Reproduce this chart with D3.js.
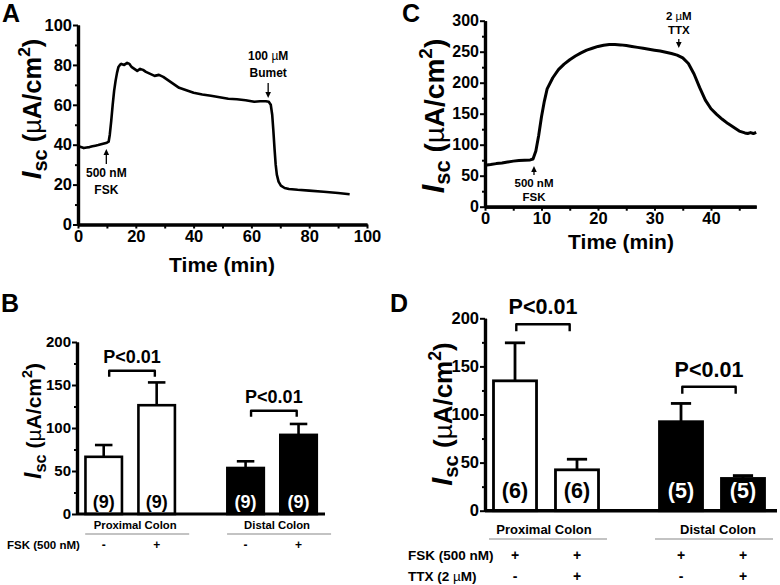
<!DOCTYPE html>
<html><head><meta charset="utf-8">
<script src="https://cdn.jsdelivr.net/npm/d3@7"></script>
<style>
body{margin:0;background:#fff}
svg text{font-family:"Liberation Sans",Arial,Helvetica,sans-serif;font-weight:bold;fill:#000}
</style>
</head><body>
<svg id="fig" width="780" height="585"></svg>
<script>
// ---------- DATA ----------
// Panel A trace: time (min), Isc (µA/cm2)
const traceATime = [0,1,2,3,4,5,6,7,8,9,10,10.6,11,11.5,12,12.5,13,13.5,14,14.5,15,16,17,17.8,18.5,19.5,20.5,21.5,22.5,23.5,25,26.5,28,29.5,31,33,35,37,40,43,46,49,52,55,58,61,63,65,66,66.7,67.2,67.6,68,68.4,68.8,69.4,70.2,71.5,73,76,80,85,90,94];
const traceAIsc  = [39.5,38.8,38.3,38.6,38.8,39.2,39.5,39.8,40.2,40.6,41,41.5,45,52,60,67,72,76,79,80,80.5,80,81,80.5,79,78,77,78,77.5,76.5,75.5,74.5,75,74,72.5,70.5,68.5,67.5,66,65.2,64.5,63.8,63,62.8,62.3,61.5,61.8,61.8,61.5,60,55,47,38,30,25,21.5,19.5,18.3,17.8,17.4,17,16.4,15.8,15.2];
const annotATime  = [9.8, 65.8];
const annotATip   = [37.8, 63.4];
const annotALines = [["500 nM","FSK"],["100 µM","Bumet"]];
const annotADir   = ["up","down"];

// Panel C trace
const traceCTime = [0,1,2,3,4,5,6,7,8,8.5,9,9.5,10,10.5,11,12,13,14,15,16,17,18,19,20,21,22,23,24,25,26,27,28,29,30,31,32,33,34,35,36,37,38,39,40,41,42,43,44,45,46,46.5,47,47.5,48];
const traceCIsc  = [67,68,69.5,70.5,72,73.5,74.5,75,75.5,77,90,115,145,170,190,208,221,230,237,243,248,252.5,255.5,258.5,260.5,261.5,261.5,261,260,258.5,257,255.5,254,252.5,251,249,247,244.5,240,231,214,192,172,158,149,141,134,128,122,119,118,119.5,118,120];
const annotCTime  = [8.67, 34.3];
const annotCTip   = [65.6, 256];
const annotCLines = [["500 nM","FSK"],["2 µM","TTX"]];
const annotCDir   = ["up","down"];

// Panel B bars
const barGroupB = ["Proximal Colon","Proximal Colon","Distal Colon","Distal Colon"];
const barFskB   = ["-","+","-","+"];
const barMeanB  = [66.5,126.5,53.5,92];
const barSemB   = [13.7,26.5,7.8,12.7];
const barNB     = ["(9)","(9)","(9)","(9)"];
const sigB      = [{g:"Proximal Colon", level:166.6, label:"P<0.01"},{g:"Distal Colon", level:120, label:"P<0.01"}];

// Panel D bars
const barGroupD = ["Proximal Colon","Proximal Colon","Distal Colon","Distal Colon"];
const barFskD   = ["+","+","+","+"];
const barTtxD   = ["-","+","-","+"];
const barMeanD  = [135,42.5,92.5,33.5];
const barSemD   = [39.5,11,19,3];
const barND     = ["(6)","(6)","(5)","(5)"];
const sigD      = [{g:"Proximal Colon", level:193.8, label:"P<0.01"},{g:"Distal Colon", level:128.9, label:"P<0.01"}];

const groupFill = {"Proximal Colon":"#fff","Distal Colon":"#000"};
const groupText = {"Proximal Colon":"#000","Distal Colon":"#fff"};

// ---------- DRAW ----------
const svg = d3.select("#fig");

function styleAxis(g, sw, fs){
  g.select(".domain").attr("stroke","#000").attr("stroke-width",sw);
  g.selectAll(".tick line").attr("stroke","#000").attr("stroke-width",2);
  g.selectAll(".tick text").style("font-size",fs+"px").attr("fill","#000")
   .style("font-family",'"Liberation Sans",Arial,sans-serif').style("font-weight","bold");
}
function leftAxis(x0, y, major, minor, fs){
  const gm = svg.append("g").attr("transform",`translate(${x0},0)`)
    .call(d3.axisLeft(y).tickValues(minor).tickSize(3).tickSizeOuter(0).tickFormat(""));
  styleAxis(gm,3.2,fs);
  const ga = svg.append("g").attr("transform",`translate(${x0},0)`)
    .call(d3.axisLeft(y).tickValues(major).tickSize(5).tickSizeOuter(0).tickPadding(1));
  styleAxis(ga,3.2,fs);
}
function bottomAxis(y0, x, major, minor, fs){
  const gm = svg.append("g").attr("transform",`translate(0,${y0})`)
    .call(d3.axisBottom(x).tickValues(minor).tickSize(4).tickSizeOuter(0).tickFormat(""));
  styleAxis(gm,3.2,fs);
  const ga = svg.append("g").attr("transform",`translate(0,${y0})`)
    .call(d3.axisBottom(x).tickValues(major).tickSize(4).tickSizeOuter(0).tickPadding(2));
  styleAxis(ga,3.2,fs);
}
function yTitle(x, y, fs){
  const t = svg.append("text").attr("transform",`translate(${x},${y}) rotate(-90)`)
    .attr("text-anchor","middle").style("font-size",fs+"px");
  t.append("tspan").text("I").style("font-style","italic").style("font-size",(fs*1.1)+"px");
  t.append("tspan").text("sc").attr("dy",fs*0.22).style("font-size",(fs*0.78)+"px");
  t.append("tspan").text(" (").attr("dy",-fs*0.22);
  t.append("tspan").text("µ").style("font-weight","normal");
  t.append("tspan").text("A/cm");
  t.append("tspan").text("2").attr("dy",-fs*0.42).style("font-size",(fs*0.68)+"px");
  t.append("tspan").text(")").attr("dy",fs*0.42);
}
function panelLabel(s,x,y){
  svg.append("text").attr("x",x).attr("y",y).text(s).style("font-size","25px");
}
function richText(sel, s){
  // render µ in normal weight like the reference's symbol glyph
  s.split(/(µ)/).filter(p=>p.length).forEach(p=>{
    const ts = sel.append("tspan").text(p);
    if(p==="µ") ts.style("font-weight","normal");
  });
}
function annotations(x, y, times, tips, lines, dirs, len, fs, gap){
  times.forEach((t,i)=>{
    const px = x(t), ty = y(tips[i]);
    const up = dirs[i]==="up";
    const tail = up ? ty+len : ty-len;
    svg.append("line").attr("x1",px).attr("x2",px).attr("y1",tail).attr("y2",up?ty+3:ty-3)
      .attr("stroke","#000").attr("stroke-width",1.3);
    const h = up ? [[px,ty],[px-2.8,ty+6],[px+2.8,ty+6]] : [[px,ty],[px-2.8,ty-6],[px+2.8,ty-6]];
    svg.append("path").attr("d","M"+h.join("L")+"Z").attr("fill","#000");
    const l = lines[i];
    l.forEach((s,j)=>{
      const by = up ? ty + len + gap[0] + j*gap[1] : ty - len - gap[2] - (l.length-1-j)*gap[1];
      const tx = svg.append("text").attr("x",px).attr("y",by).attr("text-anchor","middle")
        .style("font-size",fs+"px");
      richText(tx, s);
    });
  });
}

// ===== Panel A =====
{
  const x = d3.scaleLinear().domain([0,100]).range([78,367]);
  const y = d3.scaleLinear().domain([0,100]).range([224.5,25]);
  const line = d3.line().x((d,i)=>x(traceATime[i])).y(d=>y(d));
  svg.append("path").attr("d",line(traceAIsc)).attr("fill","none").attr("stroke","#000")
    .attr("stroke-width",2.6).attr("stroke-linejoin","round");
  leftAxis(78, y, d3.range(0,101,20), d3.range(10,100,20), 16.5);
  bottomAxis(224.5, x, d3.range(0,101,20), d3.range(10,100,20), 16.5);
  svg.append("text").attr("x",222).attr("y",272).attr("text-anchor","middle").style("font-size","21px").text("Time (min)");
  yTitle(41,109,25.5);
  annotations(x,y,annotATime,annotATip,annotALines,annotADir,15,12,[13,17,6]);
  panelLabel("A",2,22);
}
// ===== Panel C =====
{
  const x = d3.scaleLinear().domain([0,48]).range([485,756.2]);
  const y = d3.scaleLinear().domain([0,300]).range([206.7,20.7]);
  const line = d3.line().x((d,i)=>x(traceCTime[i])).y(d=>y(d));
  svg.append("path").attr("d",line(traceCIsc)).attr("fill","none").attr("stroke","#000")
    .attr("stroke-width",3).attr("stroke-linejoin","round");
  leftAxis(485, y, d3.range(0,301,50), d3.range(25,300,50), 16);
  bottomAxis(206.7, x, d3.range(0,41,10), d3.range(5,48,10), 16.5);
  svg.append("text").attr("x",621).attr("y",249).attr("text-anchor","middle").style("font-size","21px").text("Time (min)");
  yTitle(444,116,28);
  annotations(x,y,annotCTime,annotCTip,annotCLines,annotCDir,9,11.5,[12,14,5]);
  panelLabel("C",402,22);
}

function barPanel(cfg){
  const {y, outerRange, innerPad, groups, inner, means, sems, ns, sig, nFs, nOff, capFrac, sw, pFs, pGap, bracketFrac, brDrop} = cfg;
  const gDomain = Array.from(new Set(groups));
  const xo = d3.scaleBand().domain(gDomain).range(outerRange);
  const xi = d3.scaleBand().domain(["-","+"]).range([0,xo.bandwidth()]).paddingInner(innerPad[0]).paddingOuter(innerPad[1]);
  const bx = i => xo(groups[i]) + xi(inner[i]);
  const bw = xi.bandwidth();
  means.forEach((m,i)=>{
    const cx = bx(i)+bw/2;
    svg.append("line").attr("x1",cx).attr("x2",cx).attr("y1",y(m)).attr("y2",y(m+sems[i])).attr("stroke","#000").attr("stroke-width",sw);
    svg.append("line").attr("x1",cx-bw*capFrac/2).attr("x2",cx+bw*capFrac/2).attr("y1",y(m+sems[i])).attr("y2",y(m+sems[i])).attr("stroke","#000").attr("stroke-width",sw);
    svg.append("rect").attr("x",bx(i)).attr("y",y(m)).attr("width",bw).attr("height",y(0)-y(m))
      .attr("fill",groupFill[groups[i]]).attr("stroke","#000").attr("stroke-width",sw);
    svg.append("text").attr("x",cx).attr("y",y(0)-nOff).attr("text-anchor","middle")
      .style("font-size",nFs+"px").style("fill",groupText[groups[i]]).text(ns[i]);
  });
  sig.forEach(s=>{
    const idx = groups.map((g,i)=>g===s.g?i:-1).filter(i=>i>=0);
    const x1 = bx(idx[0]) + bw*bracketFrac[0], x2 = bx(idx[1]) + bw*bracketFrac[1];
    const yy = y(s.level);
    svg.append("path").attr("d",`M${x1},${yy+brDrop}V${yy}H${x2}V${yy+brDrop}`)
      .attr("fill","none").attr("stroke","#000").attr("stroke-width",2.4).attr("stroke-linejoin","round");
    svg.append("text").attr("x",(x1+x2)/2).attr("y",yy-pGap).attr("text-anchor","middle").style("font-size",pFs+"px").text(s.label);
  });
  return {xo, xi, bx, bw};
}

// ===== Panel B =====
{
  const y = d3.scaleLinear().domain([0,200]).range([514,342]);
  const r = barPanel({y, outerRange:[59.25,343], innerPad:[0.311,0.495], groups:barGroupB, inner:barFskB,
    means:barMeanB, sems:barSemB, ns:barNB, sig:sigB, nFs:18, nOff:6, capFrac:0.48, sw:2.6, pFs:18, pGap:7.7,
    bracketFrac:[0.65,0.45], brDrop:6});
  svg.append("line").attr("x1",77).attr("x2",325).attr("y1",y(0)).attr("y2",y(0)).attr("stroke","#000").attr("stroke-width",3.2);
  leftAxis(77, y, d3.range(0,201,50), d3.range(25,200,50), 15);
  yTitle(41,421,21);
  panelLabel("B",1,312);
  const gDomain = Array.from(new Set(barGroupB));
  gDomain.forEach(g=>{
    const c = r.xo(g)+r.xo.bandwidth()/2;
    svg.append("text").attr("x",c+5).attr("y",529).attr("text-anchor","middle").style("font-size","11.3px").text(g);
    svg.append("line").attr("x1",c-45).attr("x2",c+59).attr("y1",534).attr("y2",534).attr("stroke","#888").attr("stroke-width",1.1);
  });
  svg.append("text").attr("x",7).attr("y",549).style("font-size","11.5px").text("FSK (500 nM)");
  barFskB.forEach((s,i)=>{
    svg.append("text").attr("x",r.bx(i)+r.bw/2).attr("y",549).attr("text-anchor","middle").style("font-size","12px").text(s);
  });
}
// ===== Panel D =====
{
  const y = d3.scaleLinear().domain([0,200]).range([510.7,318.3]);
  const r = barPanel({y, outerRange:[463,795], innerPad:[0.306,0.492], groups:barGroupD, inner:barTtxD,
    means:barMeanD, sems:barSemD, ns:barND, sig:sigD, nFs:21.5, nOff:12.7, capFrac:0.47, sw:2.8, pFs:21.5, pGap:10,
    bracketFrac:[0.53,0.33], brDrop:7});
  svg.append("line").attr("x1",485).attr("x2",777).attr("y1",y(0)).attr("y2",y(0)).attr("stroke","#000").attr("stroke-width",3.4);
  leftAxis(485, y, d3.range(0,201,50), d3.range(25,200,50), 16.5);
  yTitle(452,414,26);
  panelLabel("D",390,312);
  const gDomain = Array.from(new Set(barGroupD));
  gDomain.forEach((g,k)=>{
    const c = r.xo(g)+r.xo.bandwidth()/2;
    svg.append("text").attr("x",c+(k?6:-2)).attr("y",534).attr("text-anchor","middle").style("font-size","13px").text(g);
    svg.append("line").attr("x1",c-57).attr("x2",c+61).attr("y1",539).attr("y2",539).attr("stroke","#888").attr("stroke-width",1.1);
  });
  svg.append("text").attr("x",408).attr("y",560).style("font-size","13.5px").text("FSK (500 nM)");
  const ttx = svg.append("text").attr("x",408).attr("y",580.5).style("font-size","13.5px");
  richText(ttx, "TTX (2 µM)");
  barFskD.forEach((s,i)=>{
    svg.append("text").attr("x",r.bx(i)+r.bw/2).attr("y",560).attr("text-anchor","middle").style("font-size","14px").text(s);
  });
  barTtxD.forEach((s,i)=>{
    svg.append("text").attr("x",r.bx(i)+r.bw/2).attr("y",580.5).attr("text-anchor","middle").style("font-size","14px").text(s);
  });
}
</script>
</body></html>
